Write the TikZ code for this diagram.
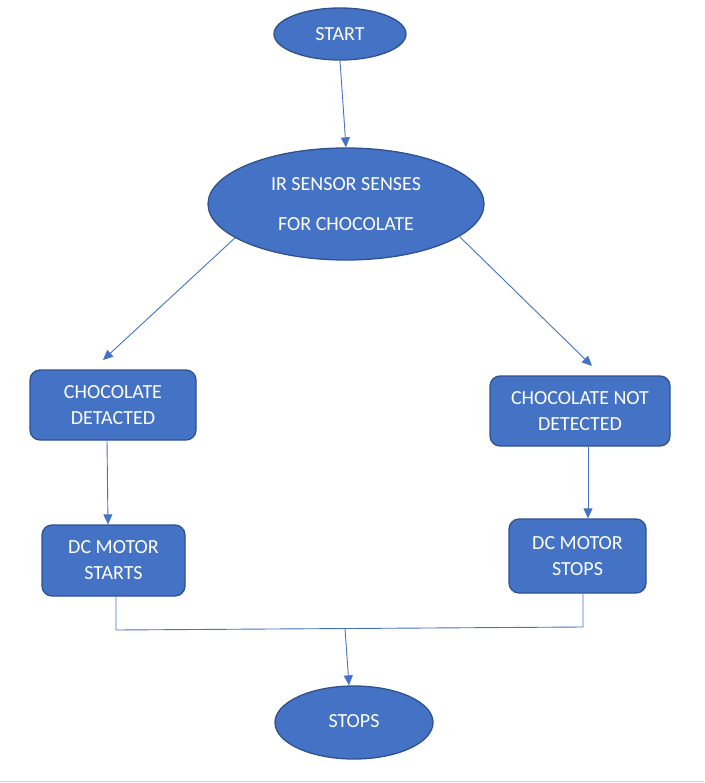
\documentclass[tikz,border=0pt]{standalone}
\usepackage{fontspec}
\setmainfont{Carlito}
\usetikzlibrary{shapes.geometric,arrows.meta,calc}
\definecolor{fillblue}{HTML}{4472C4}
\definecolor{edgeblue}{HTML}{2F528F}
\definecolor{lineblue}{HTML}{4472C4}
\definecolor{pagegrey}{HTML}{D0D0D0}
\newcommand{\lowln}[1]{\raisebox{-2.5pt}{#1}}
\tikzset{
  oval/.style={ellipse, draw=edgeblue, line width=1.3pt, fill=fillblue, text=white, inner sep=0pt,
    font=\fontsize{20}{26}\selectfont, align=center},
  stepbox/.style={rectangle, rounded corners=10pt, draw=edgeblue, line width=1.3pt, fill=fillblue, text=white,
    inner sep=0pt, font=\fontsize{20}{26}\selectfont, align=center},
  conn/.style={draw=lineblue, line width=0.9pt},
  arr/.style={conn, -{Triangle[length=10pt,width=9pt]}, color=lineblue},
}
\begin{document}
\begin{tikzpicture}[x=1pt,y=-1pt]
\useasboundingbox (0,0) rectangle (704,783);
\draw[pagegrey, line width=1.2pt] (0,781.5) -- (704,781.5);

\node[oval, minimum width=132pt, minimum height=52pt] (start) at (340,34) {\lowln{START}};
\node[oval, minimum width=276pt, minimum height=112pt] (ir) at (346,204) {\lowln{IR SENSOR SENSES}\\[14pt]\lowln{FOR CHOCOLATE}};
\node[stepbox, minimum width=166pt, minimum height=70pt] (ldet) at (113,405) {\lowln{CHOCOLATE}\\\lowln{DETACTED}};
\node[stepbox, minimum width=180pt, minimum height=70pt] (rdet) at (580,411) {\lowln{CHOCOLATE NOT}\\\lowln{DETECTED}};
\node[stepbox, minimum width=143pt, minimum height=71pt] (lmot) at (113.5,560.5) {\lowln{DC MOTOR}\\\lowln{STARTS}};
\node[stepbox, minimum width=137pt, minimum height=74pt] (rmot) at (577.5,556) {\lowln{DC MOTOR}\\\lowln{STOPS}};
\node[oval, minimum width=158pt, minimum height=73pt] (stop) at (354,722.5) {\raisebox{3pt}{STOPS}};

\coordinate (lend) at (103,360);
\coordinate (rend) at (592,366);
\coordinate (jl) at (116,630);
\coordinate (jr) at (583,627);
\coordinate (jm) at (345,628.5);

\draw[arr] (start.south) -- (ir.north);
\draw[arr] (ir.197) -- (lend);
\draw[arr] (ir.344) -- (rend);
\draw[arr] ([xshift=-6pt]ldet.south) -- ([xshift=-5.5pt]lmot.north);
\draw[arr] ([xshift=8pt]rdet.south) -- ([xshift=10.5pt]rmot.north);
\draw[conn] ([xshift=2.5pt]lmot.south) -- (jl) -- (jr) -- ([xshift=5.5pt]rmot.south);
\draw[arr] (jm) -- ([xshift=-5pt]stop.north);
\end{tikzpicture}
\end{document}
